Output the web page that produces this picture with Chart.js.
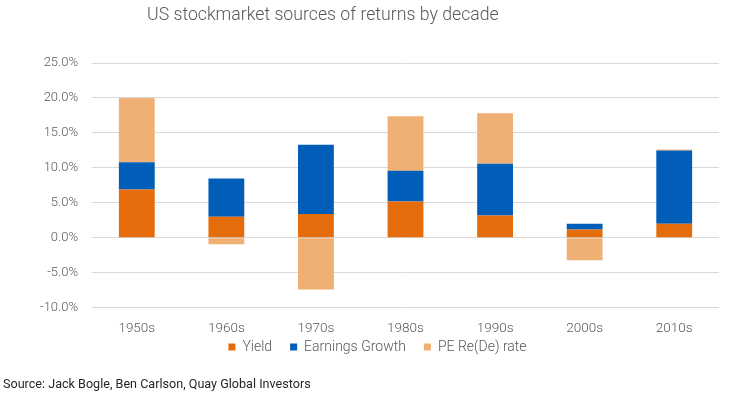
<!DOCTYPE html>
<html>
<head>
<meta charset="utf-8">
<script src="https://cdn.jsdelivr.net/npm/chart.js@4"></script>
<style>
  body { margin: 0; background: #fff; font-family: Roboto, sans-serif; }
  #wrap { position: relative; width: 732px; height: 394px; }
  #title { position: absolute; left: 147px; top: 4px; font-size: 17.7px; font-weight: 300; color: #595959; }
  #source { position: absolute; left: 3px; top: 376px; font-size: 12.6px; color: #262626; }
  canvas { position: absolute; left: 0; top: 0; }
</style>
</head>
<body>
<div id="wrap">
  <canvas id="chart" width="732" height="394"></canvas>
  <div id="title">US stockmarket sources of returns by decade</div>
  <div id="source">Source: Jack Bogle, Ben Carlson, Quay Global Investors</div>
</div>
<script>
// Data (percent)
const decades = ['1950s', '1960s', '1970s', '1980s', '1990s', '2000s', '2010s'];
const yieldValues = [6.9, 3.0, 3.4, 5.2, 3.2, 1.2, 2.0];
const earningsValues = [3.9, 5.5, 9.9, 4.4, 7.4, 0.8, 10.5];
const peValues = [9.2, -0.9, -7.4, 7.8, 7.2, -3.2, 0.15];

const textColor = '#595959';

// legend padding is also used between items, so nudge the legend up afterwards
const legendShift = {
    id: 'legendShift',
    afterLayout(chart) {
        chart.legend.top -= 20;
        chart.legend.bottom -= 20;
    }
};

const ctx = document.getElementById('chart').getContext('2d');
new Chart(ctx, {
    type: 'bar',
    data: {
        labels: decades,
        datasets: [
            { label: 'Yield', data: yieldValues, backgroundColor: '#E46C0A' },
            { label: 'Earnings Growth', data: earningsValues, backgroundColor: '#005EB8' },
            { label: 'PE Re(De) rate', data: peValues, backgroundColor: '#F0B073' }
        ]
    },
    options: {
        responsive: false,
        animation: false,
        layout: { padding: { top: 63, right: 13, bottom: 10, left: 36 } },
        datasets: { bar: { barPercentage: 0.4, categoryPercentage: 1.0 } },
        scales: {
            x: {
                stacked: true,
                grid: { display: false },
                border: { display: false },
                ticks: { color: textColor, font: { family: 'Roboto', size: 13.5, weight: 300 }, padding: 5 }
            },
            y: {
                stacked: true,
                min: -10,
                max: 25,
                grid: { color: '#d9d9d9', drawTicks: false, lineWidth: 1 },
                border: { display: false },
                afterFit: (scale) => { scale.width = 56; },
                ticks: {
                    stepSize: 5,
                    padding: 14,
                    color: textColor,
                    font: { family: 'Roboto', size: 13, weight: 300 },
                    callback: (v) => v.toFixed(1) + '%'
                }
            }
        },
        plugins: {
            legend: {
                position: 'bottom',
                labels: {
                    boxWidth: 7,
                    boxHeight: 7,
                    padding: 18,
                    color: textColor,
                    font: { family: 'Roboto', size: 14, weight: 300 }
                }
            },
            tooltip: { enabled: false }
        }
    },
    plugins: [legendShift]
});
</script>
</body>
</html>
